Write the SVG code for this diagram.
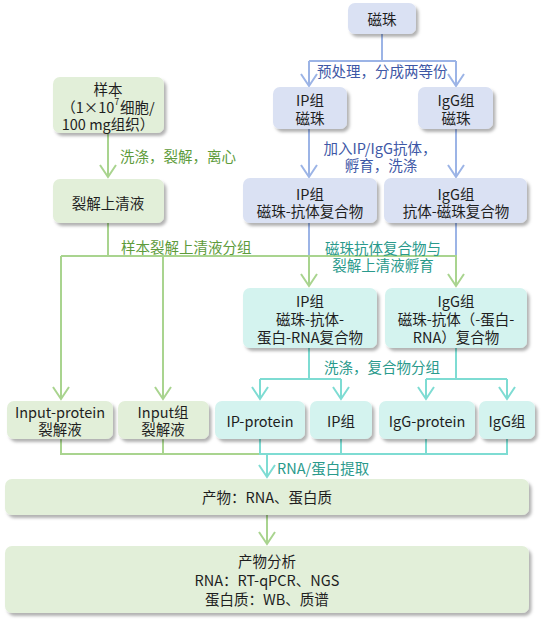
<svg xmlns="http://www.w3.org/2000/svg" width="547" height="619" viewBox="0 0 547 619">
<defs>
<filter id="sh" x="-10%" y="-20%" width="130%" height="160%">
<feDropShadow dx="2.5" dy="3" stdDeviation="1.8" flood-color="#000" flood-opacity="0.3"/>
</filter>
<marker id="ag" markerUnits="userSpaceOnUse" markerWidth="20" markerHeight="20" refX="0" refY="0" viewBox="-14 -10 16 20" orient="auto" overflow="visible">
<path d="M-12,-8 L0,0 L-12,8" fill="none" stroke="#a9d48f" stroke-width="2"/>
</marker>
<marker id="ab" markerUnits="userSpaceOnUse" markerWidth="20" markerHeight="20" refX="0" refY="0" viewBox="-14 -10 16 20" orient="auto" overflow="visible">
<path d="M-12,-8 L0,0 L-12,8" fill="none" stroke="#9cb4e6" stroke-width="2"/>
</marker>
<marker id="at" markerUnits="userSpaceOnUse" markerWidth="20" markerHeight="20" refX="0" refY="0" viewBox="-14 -10 16 20" orient="auto" overflow="visible">
<path d="M-12,-8 L0,0 L-12,8" fill="none" stroke="#7edcd3" stroke-width="2"/>
</marker>
</defs>
<style>
text{font-family:"Noto Sans CJK SC","Noto Sans",sans-serif;font-size:14.5px;}
.n{fill:#1e1e1e;text-anchor:middle;dominant-baseline:central;}
.g rect{fill:#e2efd9;filter:url(#sh);}
.b rect{fill:#dae1f3;filter:url(#sh);}
.t rect{fill:#d4f3ef;filter:url(#sh);}
.lg{fill:none;stroke:#a9d48f;stroke-width:2;}
.lb{fill:none;stroke:#9cb4e6;stroke-width:2;}
.lt{fill:none;stroke:#7edcd3;stroke-width:2;}
.tg{fill:#5d9b3b;dominant-baseline:central;}
.tb{fill:#3e58a6;dominant-baseline:central;}
.tt{fill:#2a9a8c;dominant-baseline:central;}
</style>
<rect width="547" height="619" fill="#fff"/>

<g id="connectors">
<!-- blue -->
<path class="lb" d="M382,34 V61 M309,61 H456" />
<path class="lb" d="M309,61 V86" marker-end="url(#ab)"/>
<path class="lb" d="M456,61 V86" marker-end="url(#ab)"/>
<path class="lb" d="M309,129 V177" marker-end="url(#ab)"/>
<path class="lb" d="M456,129 V177" marker-end="url(#ab)"/>
<path class="lb" d="M309,223 V256 M456,223 V256"/>
<!-- green -->
<path class="lg" d="M108,133 V177" marker-end="url(#ag)"/>
<path class="lg" d="M108,223 V256 M61,256 H457"/>
<path class="lg" d="M61,256 V399" marker-end="url(#ag)"/>
<path class="lg" d="M163,256 V399" marker-end="url(#ag)"/>
<path class="lg" d="M309,256 V286" marker-end="url(#ag)"/>
<path class="lg" d="M456,256 V286" marker-end="url(#ag)"/>
<!-- teal -->
<path class="lt" d="M309,348 V379 M260,379 H341 M456,348 V379 M426,379 H507"/>
<path class="lt" d="M260,379 V399" marker-end="url(#at)"/>
<path class="lt" d="M341,379 V399" marker-end="url(#at)"/>
<path class="lt" d="M426,379 V399" marker-end="url(#at)"/>
<path class="lt" d="M507,379 V399" marker-end="url(#at)"/>
<!-- bottom merge -->
<path class="lg" d="M61,439 V454 H260 M163,439 V454"/>
<path class="lt" d="M260,439 V454 H507 V439 M341,439 V454 M426,439 V454"/>
<path class="lt" d="M267,454 V477" marker-end="url(#at)"/>
<path class="lg" d="M267,515 V544" marker-end="url(#ag)"/>
<!-- labels -->
<text class="tg" x="120" y="155">洗涤，裂解，离心</text>
<text class="tg" x="121" y="246">样本裂解上清液分组</text>
<text class="tb" x="317" y="70">预处理，分成两等份</text>
<text class="tb" x="380" y="147" text-anchor="middle">加入IP/IgG抗体，</text>
<text class="tb" x="381" y="164" text-anchor="middle">孵育，洗涤</text>
<text class="tt" x="383" y="247" text-anchor="middle">磁珠抗体复合物与</text>
<text class="tt" x="383" y="264" text-anchor="middle">裂解上清液孵育</text>
<text class="tt" x="324" y="366">洗涤，复合物分组</text>
<text class="tt" x="277" y="467">RNA/蛋白提取</text>
</g>

<g id="n_beads" class="b"><rect x="348" y="3" width="68" height="31" rx="7"/><text class="n" x="382" y="18">磁珠</text></g>
<g id="n_ip_beads" class="b"><rect x="273" y="87" width="74" height="42" rx="7"/><text class="n" x="310" y="99">IP组</text><text class="n" x="310" y="117">磁珠</text></g>
<g id="n_igg_beads" class="b"><rect x="418" y="87" width="75" height="42" rx="7"/><text class="n" x="456" y="99">IgG组</text><text class="n" x="456" y="117">磁珠</text></g>
<g id="n_sample" class="g"><rect x="53" y="77" width="111" height="56" rx="7"/><text class="n" x="108" y="88">样本</text><text class="n" x="108" y="106">（1×10<tspan font-size="8.5" dy="-5">7</tspan><tspan dy="5" dx="1">细胞/</tspan></text><text class="n" x="108" y="123">100 mg组织）</text></g>
<g id="n_lysate" class="g"><rect x="53" y="179" width="111" height="44" rx="7"/><text class="n" x="108" y="202">裂解上清液</text></g>
<g id="n_ip_ab" class="b"><rect x="243" y="178" width="134" height="45" rx="7"/><text class="n" x="310" y="193">IP组</text><text class="n" x="310" y="210">磁珠-抗体复合物</text></g>
<g id="n_igg_ab" class="b"><rect x="384" y="178" width="143" height="45" rx="7"/><text class="n" x="456" y="193">IgG组</text><text class="n" x="456" y="210">抗体-磁珠复合物</text></g>
<g id="n_ip_rna" class="t"><rect x="243" y="288" width="134" height="60" rx="7"/><text class="n" x="310" y="300">IP组</text><text class="n" x="310" y="318">磁珠-抗体-</text><text class="n" x="310" y="336">蛋白-RNA复合物</text></g>
<g id="n_igg_rna" class="t"><rect x="385" y="288" width="142" height="60" rx="7"/><text class="n" x="456" y="300">IgG组</text><text class="n" x="456" y="318">磁珠-抗体（-蛋白-</text><text class="n" x="456" y="336">RNA）复合物</text></g>
<g id="n_input_protein" class="g"><rect x="7" y="401" width="106" height="38" rx="7"/><text class="n" x="60" y="411">Input-protein</text><text class="n" x="60" y="428">裂解液</text></g>
<g id="n_input" class="g"><rect x="118" y="401" width="91" height="38" rx="7"/><text class="n" x="163" y="411">Input组</text><text class="n" x="163" y="428">裂解液</text></g>
<g id="n_ip_protein" class="t"><rect x="215" y="401" width="90" height="38" rx="7"/><text class="n" x="260" y="420">IP-protein</text></g>
<g id="n_ip" class="t"><rect x="310" y="401" width="62" height="38" rx="7"/><text class="n" x="341" y="420">IP组</text></g>
<g id="n_igg_protein" class="t"><rect x="379" y="401" width="96" height="38" rx="7"/><text class="n" x="427" y="420">IgG-protein</text></g>
<g id="n_igg" class="t"><rect x="479" y="401" width="56" height="38" rx="7"/><text class="n" x="507" y="420">IgG组</text></g>
<g id="n_product" class="g"><rect x="5" y="479" width="524" height="36" rx="7"/><text class="n" x="267" y="496">产物：RNA、蛋白质</text></g>
<g id="n_analysis" class="g"><rect x="5" y="546" width="524" height="67" rx="7"/><text class="n" x="267" y="560">产物分析</text><text class="n" x="267" y="579">RNA：RT-qPCR、NGS</text><text class="n" x="267" y="598">蛋白质：WB、质谱</text></g>
</svg>
